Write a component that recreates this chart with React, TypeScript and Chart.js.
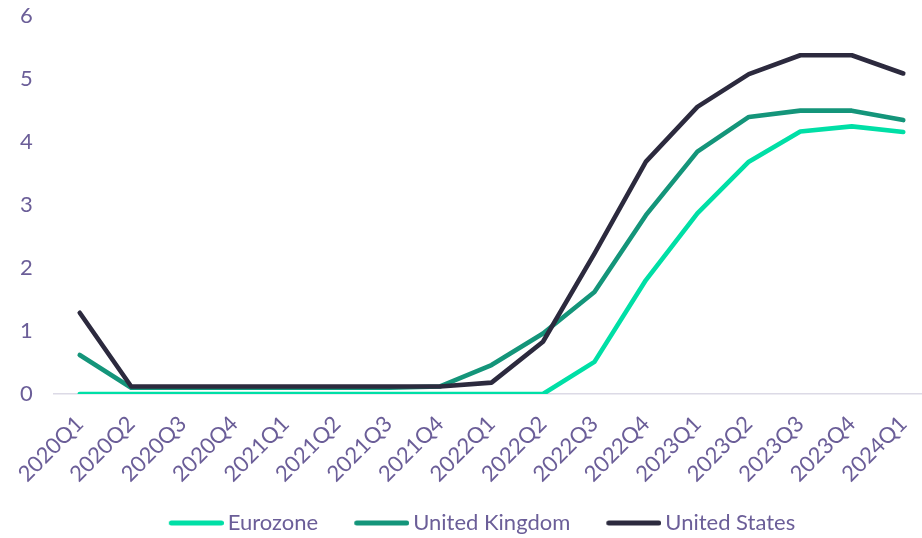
import React, { useEffect, useRef } from "react";
import { Chart, registerables } from "chart.js";

Chart.register(...registerables);

const categories = [
  "2020Q1", "2020Q2", "2020Q3", "2020Q4",
  "2021Q1", "2021Q2", "2021Q3", "2021Q4",
  "2022Q1", "2022Q2", "2022Q3", "2022Q4",
  "2023Q1", "2023Q2", "2023Q3", "2023Q4",
  "2024Q1",
];

const eurozone = [0, 0, 0, 0, 0, 0, 0, 0, 0, 0, 0.51, 1.81, 2.87, 3.69, 4.17, 4.25, 4.16];
const unitedKingdom = [0.62, 0.1, 0.1, 0.1, 0.1, 0.1, 0.1, 0.12, 0.46, 0.96, 1.62, 2.84, 3.85, 4.4, 4.5, 4.5, 4.35];
const unitedStates = [1.29, 0.12, 0.12, 0.12, 0.12, 0.12, 0.12, 0.12, 0.18, 0.83, 2.23, 3.69, 4.56, 5.08, 5.38, 5.38, 5.09];

const seriesNames = ["Eurozone", "United Kingdom", "United States"];
const seriesColors = ["#00DFA6", "#14957A", "#2C2A3E"];
const yMin = 0;
const yMax = 6;
const yStep = 1;

const TEXT = "#6B5E98";
const FONT = "Lato";

// legend sample geometry
const LEG_LEAD = 15; // blank lead before each sample line
const LEG_LINE = 55; // visible sample line length
const LEG_GAP = 4; // gap between line and text
const LEG_FONT = 22;
const LEG_PAD = 21;

function makeLegendSwatch(color: string) {
  const extra = LEG_FONT / 2 - LEG_GAP; // how far the line reaches past the box
  const boxW = LEG_LEAD + LEG_LINE - extra; // box width used by Chart.js
  const w = boxW + 2 * extra;
  const c = document.createElement("canvas");
  c.width = w;
  c.height = 10;
  const ctx = c.getContext("2d")!;
  ctx.strokeStyle = color;
  ctx.lineWidth = 5;
  ctx.lineCap = "round";
  ctx.beginPath();
  const x0 = extra + LEG_LEAD;
  const x1 = w;
  ctx.moveTo(x0 + 2.5, 5);
  ctx.lineTo(x1 - 2.5, 5);
  ctx.stroke();
  return { canvas: c, boxW };
}

export default function App() {
  const ref = useRef<HTMLCanvasElement | null>(null);

  useEffect(() => {
    if (!ref.current) return;
    const values = [eurozone, unitedKingdom, unitedStates];
    const swatches = seriesColors.map((c) => makeLegendSwatch(c));
    const chart = new Chart(ref.current, {
      type: "line",
      data: {
        labels: categories,
        datasets: values.map((v, i) => ({
          label: seriesNames[i],
          data: v,
          borderColor: seriesColors[i],
          backgroundColor: seriesColors[i],
          borderWidth: 4.6,
          borderCapStyle: "round",
          borderJoinStyle: "round",
          pointRadius: 0,
          pointHoverRadius: 0,
          pointStyle: swatches[i].canvas,
          tension: 0,
          order: 3 - i,
        })),
      },
      options: {
        responsive: false,
        animation: false,
        layout: { padding: { top: 0, left: 20, right: 11, bottom: 0 } },
        plugins: {
          tooltip: { enabled: false },
          legend: {
            position: "bottom",
            labels: {
              sort: (a: any, b: any) => a.datasetIndex - b.datasetIndex,
              usePointStyle: true,
              pointStyleWidth: swatches[0].boxW,
              color: TEXT,
              font: { family: FONT, size: LEG_FONT },
              padding: LEG_PAD,
            },
          },
        },
        scales: {
          x: {
            offset: true,
            grid: { display: false, drawTicks: false },
            border: { display: true, color: "#DCDAE6", width: 1.5 },
            ticks: {
              color: TEXT,
              font: { family: FONT, size: 22 },
              minRotation: 45,
              maxRotation: 45,
              autoSkip: false,
              padding: 17,
            },
            afterFit: (scale: any) => {
              scale.height = 97;
            },
          },
          y: {
            min: yMin,
            max: yMax,
            grid: { display: false, drawTicks: false },
            border: { display: false },
            ticks: {
              stepSize: yStep,
              color: TEXT,
              font: { family: FONT, size: 22 },
              padding: 3,
              crossAlign: "far",
            },
            afterFit: (scale: any) => {
              scale.width = 34;
            },
          },
        },
      },
    });
    return () => chart.destroy();
  }, []);

  return (
    <div
      style={{
        position: "absolute",
        left: 0,
        top: 0,
        width: 922,
        height: 538,
        overflow: "hidden",
        background: "#fff",
      }}
    >
      <canvas ref={ref} width={940} height={544} style={{ display: "block" }} />
    </div>
  );
}
